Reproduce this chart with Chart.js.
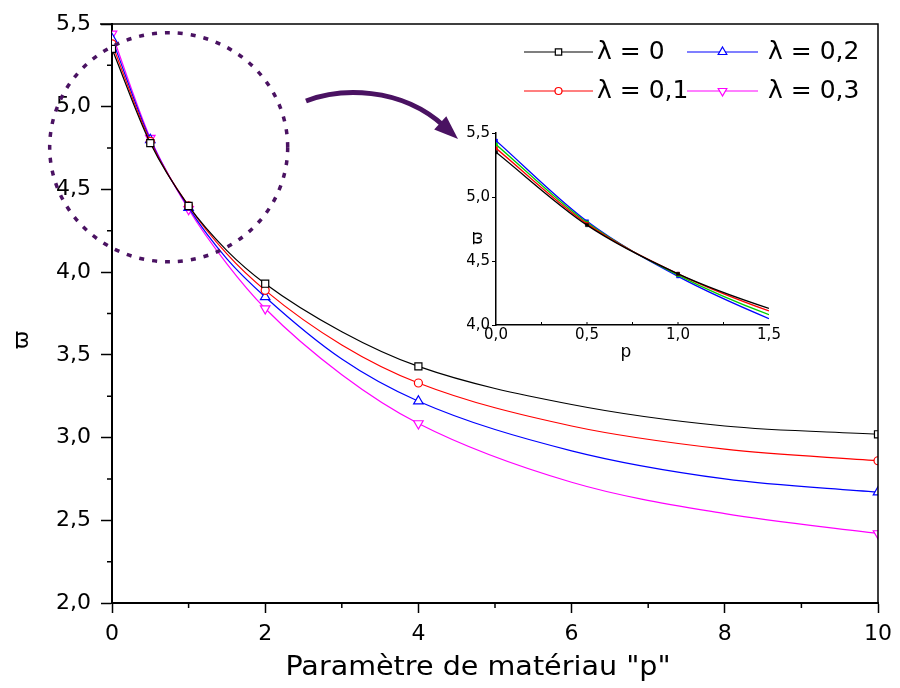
<!DOCTYPE html>
<html>
<head>
<meta charset="utf-8">
<script src="https://cdn.jsdelivr.net/npm/chart.js@4"></script>
<style>
  html, body { margin: 0; padding: 0; background: #fff; }
  .wrap { position: relative; width: 900px; height: 688px; }
  .main-chart { position: absolute; left: 0; top: 0; }
  .zoom-chart { position: absolute; left: 440px; top: 110px; }
</style>
</head>
<body>
<div class="wrap">
  <canvas class="main-chart" width="900" height="688"></canvas>
  <canvas class="zoom-chart" width="360" height="260"></canvas>
</div>
<script>
    // material parameter p and the frequency parameter for each lambda
    var pValues = [0, 0.5, 1, 1.5, 2, 3, 4, 6, 8, 10];
    var omegaL0 = [5.35, 4.78, 4.40, 4.13, 3.93, 3.64, 3.43, 3.20, 3.07, 3.02];
    var omegaL1 = [5.38, 4.79, 4.40, 4.11, 3.89, 3.56, 3.33, 3.07, 2.93, 2.86];
    var omegaL2 = [5.41, 4.80, 4.39, 4.08, 3.85, 3.475, 3.22, 2.92, 2.75, 2.67];
    var omegaL3 = [5.44, 4.81, 4.38, 4.05, 3.78, 3.38, 3.085, 2.73, 2.54, 2.42];
    var seriesLabels = ["λ = 0", "λ = 0,1", "λ = 0,2", "λ = 0,3"];

    // p values that carry a symbol
    var markerP = [0, 0.5, 1, 2, 4, 10];
    var zoomMarkerP = [0, 0.5, 1];

    var series = [
        { label: seriesLabels[0], values: omegaL0, color: "#000000", zoomColor: "#000000", style: "rect", rotation: 0, radius: 5 },
        { label: seriesLabels[1], values: omegaL1, color: "#ff0000", zoomColor: "#ff0000", style: "circle", rotation: 0, radius: 4 },
        { label: seriesLabels[2], values: omegaL2, color: "#0000ff", zoomColor: "#00d000", style: "triangle", rotation: 0, radius: 5.5 },
        { label: seriesLabels[3], values: omegaL3, color: "#ff00ff", zoomColor: "#0000ff", style: "triangle", rotation: 180, radius: 5.5 }
    ];

    Chart.defaults.font.family = "'DejaVu Sans', sans-serif";
    Chart.defaults.color = "#000";

    function commaFmt(value) {
        return value.toFixed(1).replace(".", ",");
    }

    function points(values) {
        return pValues.map(function(p, i) { return { x: p, y: values[i] }; });
    }

    var purple = "#4a1262";

    function drawMinorTicks(ctx, scale, values, len, horizontal, edge) {
        ctx.beginPath();
        values.forEach(function(v) {
            var px = scale.getPixelForValue(v);
            if (horizontal) {
                ctx.moveTo(px, edge);
                ctx.lineTo(px, edge + len);
            } else {
                ctx.moveTo(edge, px);
                ctx.lineTo(edge - len, px);
            }
        });
        ctx.stroke();
    }

    function drawText(ctx, text, x, y, font, rotation, stretch) {
        ctx.save();
        ctx.translate(x, y);
        if (rotation) ctx.rotate(rotation);
        if (stretch) ctx.scale(stretch, 1);
        ctx.font = font;
        ctx.fillStyle = "#000";
        ctx.textAlign = "center";
        ctx.textBaseline = "middle";
        ctx.fillText(text, 0, 0);
        ctx.restore();
    }

    var mainDecor = {
        id: "mainDecor",
        afterDraw: function(chart) {
            var ctx = chart.ctx, a = chart.chartArea, xs = chart.scales.x, ys = chart.scales.y;
            ctx.save();
            ctx.strokeStyle = "#000";
            ctx.lineWidth = 1.5;

            // closing frame
            ctx.beginPath();
            ctx.moveTo(a.left - 12, a.top);
            ctx.lineTo(a.right, a.top);
            ctx.lineTo(a.right, a.bottom);
            ctx.stroke();

            drawMinorTicks(ctx, xs, [1, 3, 5, 7, 9], 5, true, a.bottom);
            drawMinorTicks(ctx, ys, [2.25, 2.75, 3.25, 3.75, 4.25, 4.75, 5.25], 5, false, a.left);

            // axis titles
            drawText(ctx, "Paramètre de matériau \"p\"", 478, 668, "26px 'DejaVu Sans'", 0, 1.1);
            drawText(ctx, "ϖ", 22, 340, "22px 'DejaVu Sans'", -Math.PI / 2, 0);

            // dotted ring around the low-p region
            ctx.strokeStyle = purple;
            ctx.lineWidth = 3.5;
            ctx.setLineDash([5, 8]);
            ctx.beginPath();
            ctx.ellipse(xs.getPixelForValue(0.74), ys.getPixelForValue(4.755), 119, 114.5, 0, 0, Math.PI * 2);
            ctx.stroke();
            ctx.setLineDash([]);

            // curved arrow towards the zoom
            ctx.lineWidth = 5;
            ctx.beginPath();
            ctx.moveTo(306, 101);
            ctx.bezierCurveTo(340, 88, 400, 86, 444, 126);
            ctx.stroke();
            var ang = Math.atan2(126 - 86, 444 - 400);
            var tipX = 458, tipY = 139;
            ctx.fillStyle = purple;
            ctx.beginPath();
            ctx.moveTo(tipX, tipY);
            ctx.lineTo(tipX - 24 * Math.cos(ang) + 9 * Math.sin(ang), tipY - 24 * Math.sin(ang) - 9 * Math.cos(ang));
            ctx.lineTo(tipX - 24 * Math.cos(ang) - 9 * Math.sin(ang), tipY - 24 * Math.sin(ang) + 9 * Math.cos(ang));
            ctx.closePath();
            ctx.fill();

            // legend, two columns
            var cols = [{ x0: 524, x1: 593, tx: 597 }, { x0: 687, x1: 758, tx: 768 }];
            var rows = [52, 91];
            series.forEach(function(s, i) {
                var c = cols[Math.floor(i / 2)], y = rows[i % 2];
                ctx.strokeStyle = s.color;
                ctx.lineWidth = 1.2;
                ctx.beginPath();
                ctx.moveTo(c.x0, y);
                ctx.lineTo(c.x1, y);
                ctx.stroke();
                ctx.fillStyle = "#fff";
                Chart.helpers.drawPoint(ctx, {
                    pointStyle: s.style, rotation: s.rotation, radius: s.radius - 0.5, borderWidth: 1.2
                }, (c.x0 + c.x1) / 2, y);
                ctx.fillStyle = "#000";
                ctx.font = "25px 'DejaVu Sans'";
                ctx.textAlign = "left";
                ctx.textBaseline = "middle";
                ctx.fillText(s.label, c.tx, y);
            });
            ctx.restore();
        }
    };

    new Chart(document.getElementsByClassName("main-chart")[0].getContext("2d"), {
        type: "line",
        data: {
            datasets: series.map(function(s) {
                return {
                    label: s.label,
                    data: points(s.values),
                    borderColor: s.color,
                    borderWidth: 1.2,
                    cubicInterpolationMode: "monotone",
                    fill: false,
                    pointStyle: s.style,
                    pointRotation: s.rotation,
                    pointRadius: function(ctx) { return markerP.indexOf(pValues[ctx.dataIndex]) >= 0 ? s.radius : 0; },
                    pointBackgroundColor: "#fff",
                    pointBorderColor: s.color,
                    pointBorderWidth: 1.2,
                    pointHoverRadius: 0
                };
            })
        },
        options: {
            responsive: false,
            animation: false,
            layout: { padding: { top: 24, right: 20, left: 0, bottom: 0 } },
            plugins: { legend: { display: false }, tooltip: { enabled: false } },
            scales: {
                x: {
                    type: "linear",
                    min: 0,
                    max: 10,
                    ticks: { stepSize: 2, font: { size: 22 }, padding: 8 },
                    grid: { drawOnChartArea: false, drawTicks: true, tickLength: 10, tickColor: "#000", tickWidth: 1.5 },
                    border: { color: "#000", width: 2 },
                    afterFit: function(scale) { scale.height = 85; }
                },
                y: {
                    min: 2,
                    max: 5.5,
                    ticks: { stepSize: 0.5, font: { size: 22 }, padding: 10, callback: commaFmt },
                    grid: { drawOnChartArea: false, drawTicks: true, tickLength: 11, tickColor: "#000", tickWidth: 1.5 },
                    border: { color: "#000", width: 2 },
                    afterFit: function(scale) { scale.width = 112; }
                }
            }
        },
        plugins: [mainDecor]
    });

    // zoom on 0 <= p <= 1.5
    var zoomDecor = {
        id: "zoomDecor",
        afterDraw: function(chart) {
            var ctx = chart.ctx, a = chart.chartArea, xs = chart.scales.x;
            ctx.save();
            ctx.strokeStyle = "#000";
            ctx.lineWidth = 1;
            ctx.beginPath();
            [0.25, 0.5, 0.75, 1, 1.25].forEach(function(v) {
                var px = xs.getPixelForValue(v);
                ctx.moveTo(px, a.bottom);
                ctx.lineTo(px, a.bottom - 3);
            });
            ctx.stroke();
            drawText(ctx, "p", 186, 243, "17px 'DejaVu Sans'", 0, 0);
            drawText(ctx, "ϖ", 38, 128, "16px 'DejaVu Sans'", -Math.PI / 2, 0);
            ctx.restore();
        }
    };

    new Chart(document.getElementsByClassName("zoom-chart")[0].getContext("2d"), {
        type: "line",
        data: {
            datasets: series.map(function(s) {
                return {
                    label: s.label,
                    data: points(s.values),
                    borderColor: s.zoomColor,
                    borderWidth: 1.3,
                    cubicInterpolationMode: "monotone",
                    fill: false,
                    pointStyle: "rect",
                    pointRadius: function(ctx) { return zoomMarkerP.indexOf(pValues[ctx.dataIndex]) >= 0 ? 2.2 : 0; },
                    pointBackgroundColor: s.zoomColor,
                    pointBorderColor: s.zoomColor,
                    pointBorderWidth: 0.5,
                    pointHoverRadius: 0
                };
            })
        },
        options: {
            responsive: false,
            animation: false,
            layout: { padding: { top: 23, right: 31, left: 0, bottom: 0 } },
            plugins: { legend: { display: false }, tooltip: { enabled: false } },
            scales: {
                x: {
                    type: "linear",
                    min: 0,
                    max: 1.5,
                    ticks: { stepSize: 0.5, font: { size: 15 }, padding: 1, callback: commaFmt },
                    grid: { drawOnChartArea: false, drawTicks: false },
                    border: { color: "#000", width: 1.5 },
                    afterFit: function(scale) { scale.height = 45; }
                },
                y: {
                    min: 4,
                    max: 5.5,
                    ticks: { stepSize: 0.5, font: { size: 15 }, padding: 2, callback: commaFmt },
                    grid: { drawOnChartArea: false, drawTicks: true, tickLength: 4, tickColor: "#000", tickWidth: 1 },
                    border: { color: "#000", width: 1.5 },
                    afterFit: function(scale) { scale.width = 56; }
                }
            }
        },
        plugins: [zoomDecor]
    });
</script>
</body>
</html>
